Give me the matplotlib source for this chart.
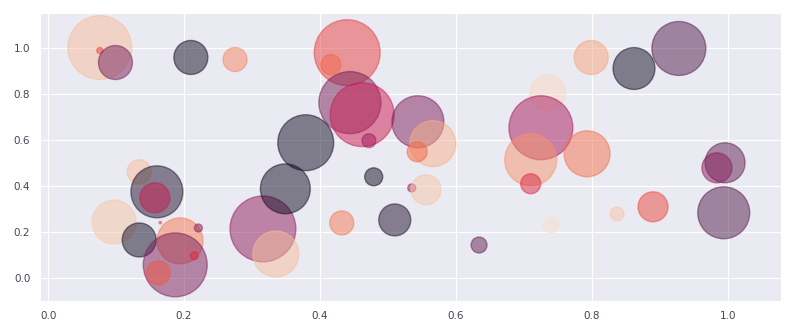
import numpy as np
import matplotlib.pyplot as plt
import seaborn as sns

sns.set_style("darkgrid")

# bubble data
x = [0.076, 0.076, 0.099, 0.210, 0.275, 0.440, 0.416, 0.444, 0.462, 0.472,
     0.379, 0.928, 0.862, 0.799, 0.735, 0.725, 0.793, 0.544, 0.566, 0.543,
     0.710, 0.996, 0.984, 0.134, 0.160, 0.157, 0.097, 0.134, 0.194, 0.187,
     0.162, 0.221, 0.215, 0.165, 0.316, 0.335, 0.349, 0.432, 0.479, 0.510,
     0.535, 0.556, 0.710, 0.740, 0.634, 0.837, 0.890, 0.994]
y = [1.000, 0.987, 0.935, 0.957, 0.948, 0.978, 0.926, 0.761, 0.709, 0.596,
     0.587, 0.996, 0.909, 0.957, 0.804, 0.652, 0.539, 0.678, 0.583, 0.548,
     0.513, 0.500, 0.478, 0.461, 0.374, 0.348, 0.243, 0.165, 0.161, 0.057,
     0.022, 0.217, 0.096, 0.240, 0.213, 0.104, 0.387, 0.239, 0.439, 0.252,
     0.391, 0.383, 0.409, 0.230, 0.143, 0.278, 0.309, 0.283]
sizes = [2120, 19, 600, 600, 300, 2250, 207, 2000, 2120, 100,
         1620, 1510, 910, 600, 670, 2120, 1095, 1400, 1095, 207,
         1400, 830, 466, 300, 1400, 466, 1000, 600, 1095, 2120,
         300, 33, 33, 3, 2250, 1095, 1290, 300, 168, 530,
         33, 466, 207, 132, 132, 100, 466, 1400]
colors = [0.88, 0.60, 0.30, 0.05, 0.75, 0.60, 0.68, 0.30, 0.50, 0.40,
          0.05, 0.22, 0.05, 0.82, 0.95, 0.42, 0.70, 0.32, 0.85, 0.68,
          0.78, 0.25, 0.35, 0.88, 0.08, 0.50, 0.90, 0.05, 0.72, 0.32,
          0.65, 0.35, 0.55, 0.60, 0.36, 0.88, 0.05, 0.72, 0.05, 0.08,
          0.40, 0.90, 0.55, 0.97, 0.25, 0.90, 0.62, 0.22]

fig = plt.figure(figsize=(8, 3.33), dpi=100)
ax = fig.add_axes([0.05, 0.096, 0.926, 0.865])

ax.scatter(x, y, s=sizes, c=colors, cmap="rocket", vmin=0, vmax=1, alpha=0.5)

ax.set_xlim(-0.012, 1.078)
ax.set_ylim(-0.1, 1.15)
ax.set_xticks(np.arange(0, 1.01, 0.2))
ax.set_yticks(np.arange(0, 1.01, 0.2))
ax.tick_params(labelsize=7.5, colors="#4a4058")

fig.savefig("out.png", dpi=100)
